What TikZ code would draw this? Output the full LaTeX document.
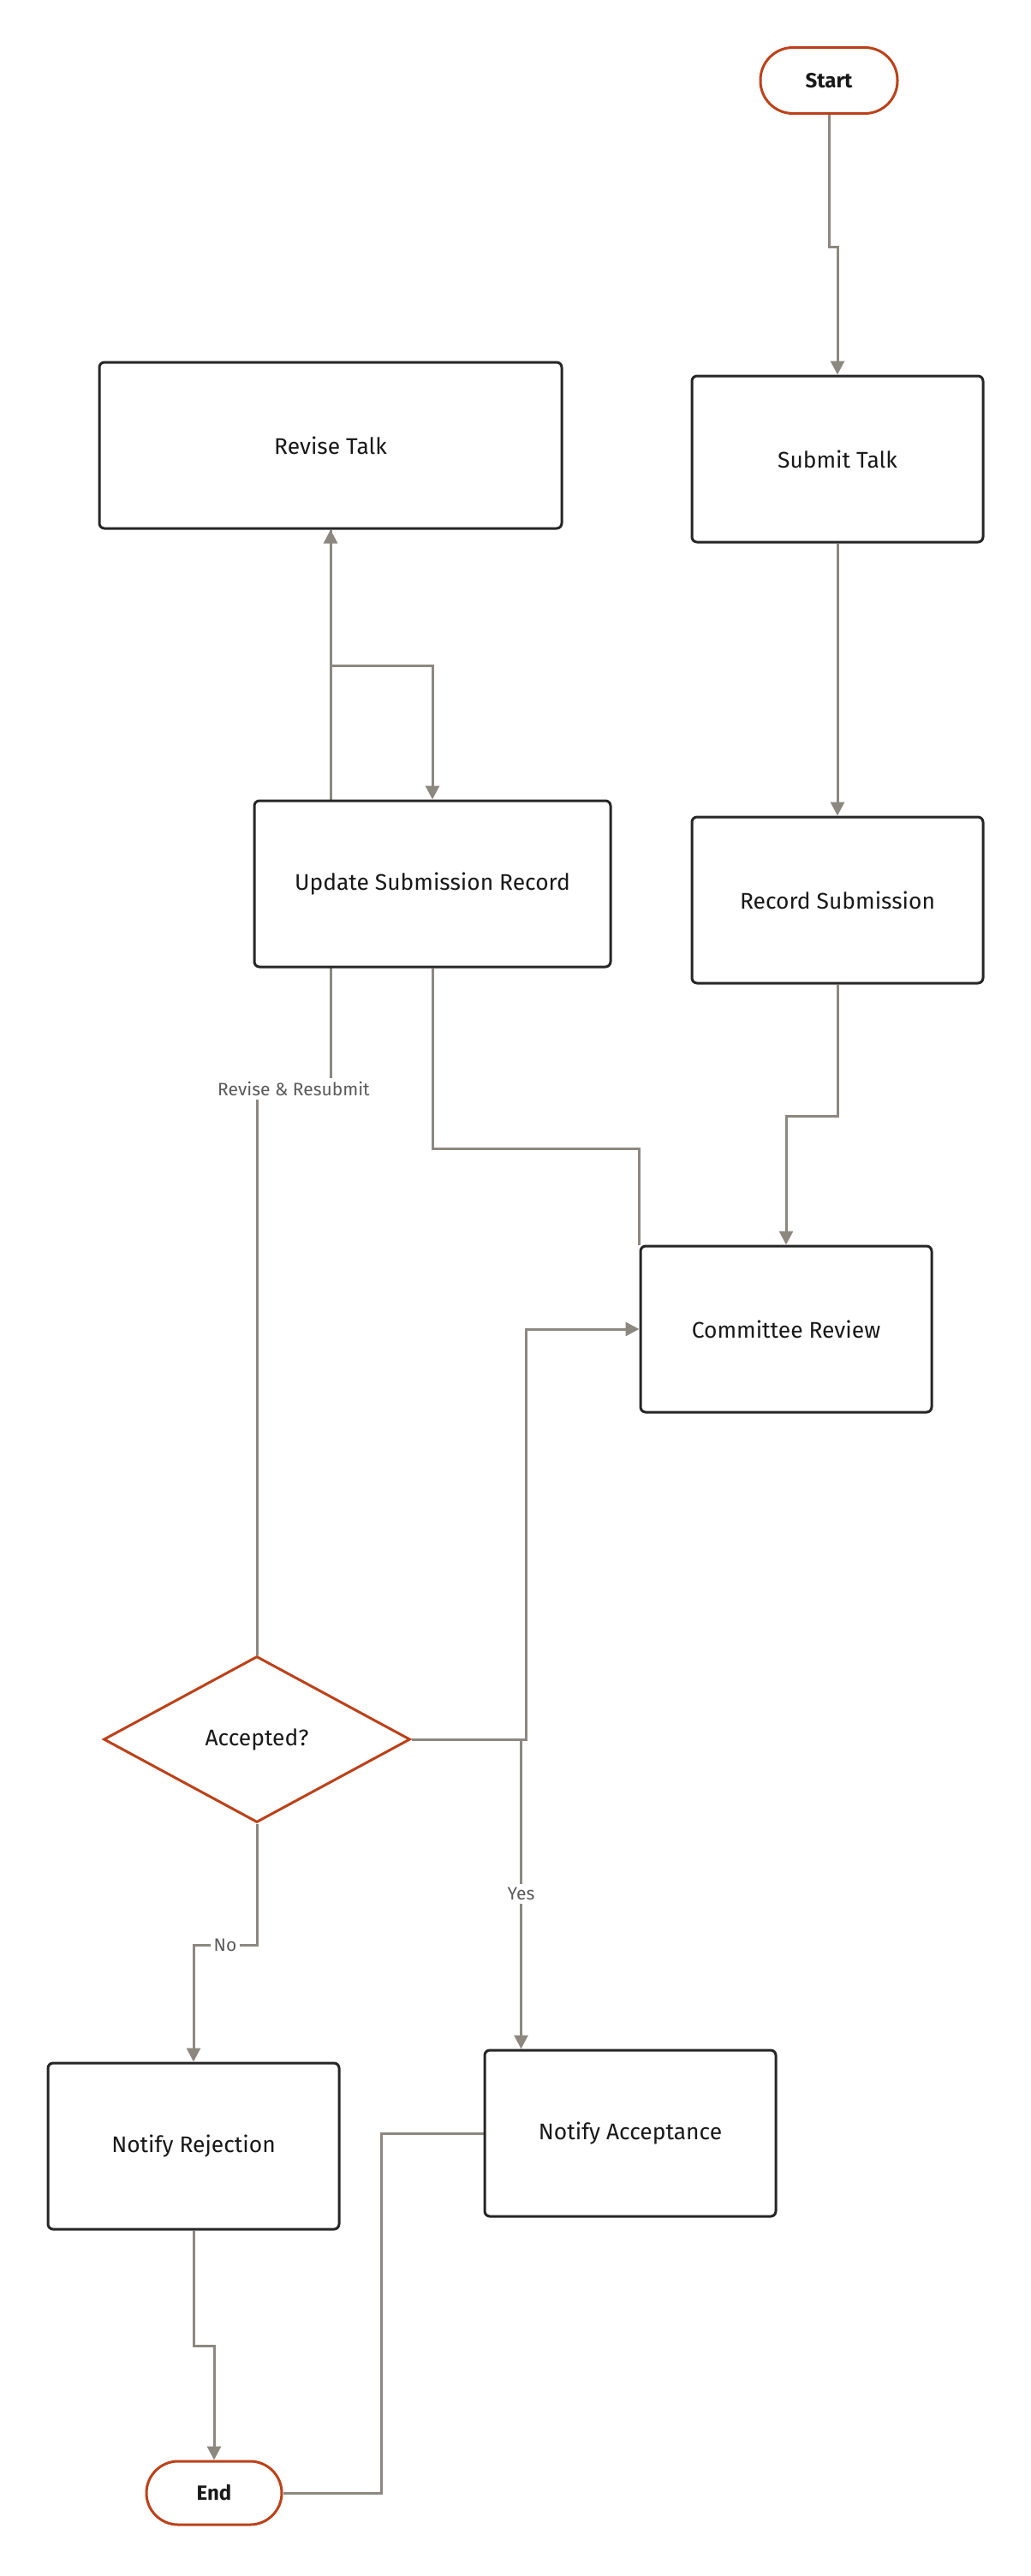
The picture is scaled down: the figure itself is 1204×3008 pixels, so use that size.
\documentclass[tikz,border=0pt]{standalone}
\usepackage{fontspec}
\setmainfont{Fira Sans}
\usetikzlibrary{shapes.geometric,arrows.meta,backgrounds}

\definecolor{flowline}{HTML}{8C8880}
\definecolor{boxline}{HTML}{262626}
\definecolor{termline}{HTML}{BC4119}
\definecolor{labeltext}{HTML}{5A5A5A}

\begin{document}
\begin{tikzpicture}[x=0.5pt, y=-0.5pt,
  task/.style={draw=boxline, line width=1.5pt, rounded corners=3pt, fill=white,
    minimum width=170pt, minimum height=97pt, text=black!90,
    font=\fontsize{13.2}{16}\selectfont},
  term/.style={draw=termline, line width=1.5pt, rounded corners=19pt, fill=white,
    minimum width=80pt, minimum height=38.5pt, text=black!90,
    font=\fontsize{12}{14}\selectfont\bfseries},
  decide/.style={diamond, draw=termline, line width=1.5pt, fill=white, inner sep=0pt,
    minimum width=179pt, minimum height=97pt, text=black!90,
    font=\fontsize{13.2}{16}\selectfont},
  flow/.style={draw=flowline, line width=1.5pt},
  arr/.style={flow, -{Triangle[length=8pt,width=8pt]}},
  lbl/.style={fill=white, text=labeltext, inner sep=2pt, font=\fontsize{10.5}{12}\selectfont}
]
\useasboundingbox (0,0) rectangle (1204,3008);

\node[term] (start) at (968,94) {Start};
\node[task] (submit) at (978,536) {Submit Talk};
\node[task, minimum width=270pt] (revise) at (386,520) {Revise Talk};
\node[task, minimum width=208pt] (update) at (505,1032) {Update Submission Record};
\node[task] (record) at (978,1051) {Record Submission};
\node[task] (review) at (918,1552) {Committee Review};
\node[decide] (accepted) at (300,2031) {Accepted?};
\node[task] (reject) at (226,2506) {Notify Rejection};
\node[task] (accept) at (736,2491) {Notify Acceptance};
\node[term, minimum width=79pt, minimum height=37pt, rounded corners=18.5pt] (end) at (250,2911) {End};

\begin{scope}[on background layer]
\draw[arr] (start.south) -- ++(0,154) -| (submit.north);
\draw[arr] (submit.south) -- (record.north);
\draw[arr] (record.south) -- ++(0,154) -| (review.north);
\draw[flow] (update.south) -- ++(0,211) -| (review.north west);
\draw[arr] (revise.south) -- ++(0,159) -| (update.north);
\draw[arr] (accepted.north) -- ++(0,-661) -| node[lbl, pos=0.25] {Revise \& Resubmit} (revise.south);
\draw[arr] (accepted.east) -- ++(134,0) |- (review.west);
\draw[arr] (accepted.east) -- ++(128,0) coordinate (yesbend) -- node[lbl] {Yes} (yesbend |- accept.north);
\draw[arr] (accepted.south) -- ++(0,142) -| node[lbl, pos=0.25] {No} (reject.north);
\draw[arr] (reject.south) -- ++(0,135) -| (end.north);
\draw[flow] (accept.west) -- ++(-119,0) |- (end.east);
\end{scope}

\end{tikzpicture}
\end{document}
